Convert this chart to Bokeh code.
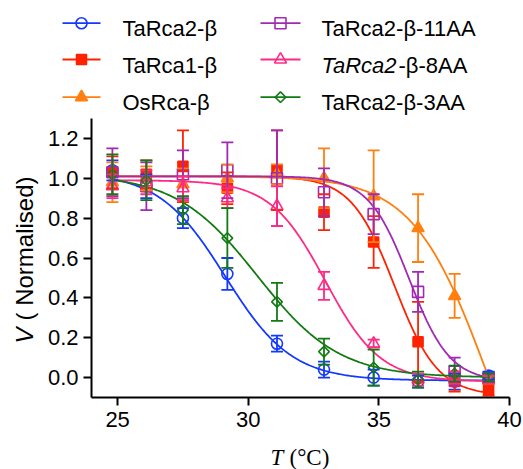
import numpy as np
from bokeh.plotting import figure
from bokeh.layouts import column, row
from bokeh.models import (Whisker, ColumnDataSource, Range1d, FixedTicker,
                          PrintfTickFormatter, TeeHead)
from bokeh.core.properties import value
from bokeh.embed import file_html
from bokeh.resources import INLINE

# ---------------- data ----------------
temps = [24.8, 26.1, 27.5, 29.2, 31.1, 32.9, 34.8, 36.5, 37.9, 39.2]

tarca2_v = [1.04, 0.96, 0.80, 0.52, 0.17, 0.04, 0.00, -0.02, -0.02, 0.01]
tarca2_e = [0.05, 0.06, 0.05, 0.08, 0.04, 0.04, 0.04, 0.03, 0.04, 0.02]

tarca1_v = [1.03, 1.02, 1.06, 0.95, 1.04, 0.83, 0.68, 0.18, -0.02, -0.06]
tarca1_e = [0.08, 0.07, 0.18, 0.08, 0.20, 0.09, 0.13, 0.20, 0.05, 0.03]

osrca_v = [0.98, 1.00, 0.97, 1.00, 1.02, 1.00, 0.91, 0.75, 0.41, -0.01]
osrca_e = [0.10, 0.06, 0.08, 0.07, 0.05, 0.15, 0.23, 0.17, 0.11, 0.02]

aa11_v = [1.03, 0.96, 1.02, 1.04, 1.00, 0.93, 0.82, 0.43, 0.03, 0.00]
aa11_e = [0.12, 0.12, 0.12, 0.14, 0.24, 0.12, 0.10, 0.10, 0.07, 0.02]

aa8_v = [0.96, 0.98, 0.95, 0.90, 0.86, 0.46, 0.17, -0.01, 0.00, -0.01]
aa8_e = [0.06, 0.06, 0.06, 0.05, 0.10, 0.07, 0.02, 0.03, 0.03, 0.02]

aa3_v = [1.02, 0.99, 0.84, 0.70, 0.38, 0.13, 0.05, -0.01, 0.02, 0.00]
aa3_e = [0.10, 0.10, 0.07, 0.15, 0.095, 0.065, 0.09, 0.04, 0.04, 0.02]

# Boltzmann fit parameters (top, bottom, Tm, slope)
tarca2_fit = (1.03, -0.015, 29.12, 1.27)
tarca1_fit = (1.01, -0.09, 35.60, 0.83)
osrca_fit = (1.01, -1.00, 39.19, 1.44)
aa11_fit = (1.01, -0.02, 36.16, 0.78)
aa8_fit = (0.99, -0.02, 32.95, 1.05)
aa3_fit = (1.02, 0.00, 30.35, 1.56)

x_ticks = [25, 30, 35, 40]
y_ticks = [0.0, 0.2, 0.4, 0.6, 0.8, 1.0, 1.2]

series_names = ["TaRca2-β", "TaRca1-β", "OsRca-β",
                "TaRca2-β-11AA", "TaRca2-β-8AA", "TaRca2-β-3AA"]

# ---------------- layout constants (page pixels) ----------------
TOTAL_W, TOTAL_H = 523, 469
TOP_H = 116           # legend strip
YL_W = 40             # y-label strip
MAIN_W = TOTAL_W - YL_W
MAIN_H = 321
BOT_H = TOTAL_H - TOP_H - MAIN_H
FL, FR, FT, FB = 51, 469, 2, 281   # frame inside main figure
XMIN, XMAX = 24.0, 40.0
YMIN, YMAX = -0.1, 1.3
FONT = "Liberation Sans"
SERIF = "Liberation Serif"


def boltz(t, params):
    top, bottom, tm, k = params
    return bottom + (top - bottom) / (1.0 + np.exp((t - tm) / k))


def blank_fig(x0, y0, w, h, top=0, bottom=0):
    """Figure whose data coordinates are page pixels (y negated)."""
    f = figure(width=w, height=h, output_backend="svg", toolbar_location=None,
               x_range=Range1d(x0, x0 + w),
               y_range=Range1d(-(y0 + h - bottom), -(y0 + top)),
               x_axis_type=None, y_axis_type=None, title=None,
               min_border_left=0, min_border_right=0,
               min_border_top=top, min_border_bottom=bottom)
    f.outline_line_color = None
    f.grid.visible = False
    f.background_fill_color = "white"
    f.border_fill_color = "white"
    return f


# ---------------- main plot ----------------
p = figure(width=MAIN_W, height=MAIN_H, output_backend="svg", toolbar_location=None,
           x_range=Range1d(XMIN, XMAX), y_range=Range1d(YMIN, YMAX),
           min_border_left=FL, min_border_right=MAIN_W - FR,
           min_border_top=FT, min_border_bottom=MAIN_H - FB, title=None)
p.outline_line_color = None
p.grid.visible = False
p.background_fill_color = "white"
p.border_fill_color = "white"

p.xaxis.ticker = FixedTicker(ticks=x_ticks, minor_ticks=[])
p.yaxis.ticker = FixedTicker(ticks=y_ticks, minor_ticks=[])
p.yaxis.formatter = PrintfTickFormatter(format="%.1f")
for ax in (p.xaxis[0], p.yaxis[0]):
    ax.axis_line_width = 2
    ax.axis_line_color = "black"
    ax.major_tick_line_width = 2
    ax.major_tick_line_color = "black"
    ax.major_tick_out = 8
    ax.major_tick_in = 0
    ax.minor_tick_line_color = None
    ax.major_label_text_font = FONT
    ax.major_label_text_font_size = "22px"
    ax.major_label_text_color = "black"
p.xaxis.major_label_standoff = 6
p.yaxis.major_label_standoff = 5

series = [
    (tarca2_v, tarca2_e, tarca2_fit, "#1438ff", "circle", 11, False, 0.0),
    (tarca1_v, tarca1_e, tarca1_fit, "#ff2200", "square", 10, True, 0.0),
    (osrca_v, osrca_e, osrca_fit, "#ff7f10", "triangle", 12, True, 0.0),
    (aa11_v, aa11_e, aa11_fit, "#a02ab4", "square", 11, False, 0.0),
    (aa8_v, aa8_e, aa8_fit, "#ff2a85", "triangle", 12, False, 0.0),
    (aa3_v, aa3_e, aa3_fit, "#127a12", "square", 7.5, False, np.pi / 4),
]

tgrid = np.linspace(temps[0], temps[-1], 300)
for vals, errs, fit, col, mk, sz, filled, ang in series:
    p.line(tgrid, boltz(tgrid, fit), line_color=col, line_width=1.8)
    src = ColumnDataSource(dict(
        x=temps, y=vals,
        upper=[v + e for v, e in zip(vals, errs)],
        lower=[v - e for v, e in zip(vals, errs)]))
    wk = Whisker(source=src, base="x", upper="upper", lower="lower",
                 line_color=col, line_width=1.8,
                 upper_head=TeeHead(size=12, line_color=col, line_width=1.8),
                 lower_head=TeeHead(size=12, line_color=col, line_width=1.8))
    wk.level = "glyph"
    p.add_layout(wk)
    p.scatter("x", "y", source=src, marker=mk, size=sz, angle=ang,
              line_color=col, line_width=1.6,
              fill_color=col if filled else None)

# ---------------- legend strip ----------------
lg = blank_fig(0, 0, TOTAL_W, TOP_H)
col_line_x = [(62, 100), (260, 300)]
col_text_x = [122, 321]
row_mark_y = [22.7, 59.0, 96.7]
row_base_y = [27.7, 65.0, 102.3]


def txt(f, x, y, s, font=FONT, size="22px", style="normal", align="left",
        baseline="alphabetic", angle=0.0):
    f.text([x], [-y], text=[s], text_font=value(font), text_font_size=size,
           text_font_style=style, text_align=align, text_baseline=baseline,
           text_color="black", angle=angle)


for i, (vals, errs, fit, col, mk, sz, filled, ang) in enumerate(series):
    c, r = divmod(i, 3)
    x0, x1 = col_line_x[c]
    yy = -row_mark_y[r]
    lg.line([x0, x1], [yy, yy], line_color=col, line_width=1.8)
    lg.scatter([(x0 + x1) / 2], [yy], marker=mk, size=sz, angle=ang,
               line_color=col, line_width=1.6,
               fill_color=col if filled else None)
    name = series_names[i]
    tx, ty = col_text_x[c], row_base_y[r]
    if name == "TaRca2-β-8AA":
        txt(lg, tx, ty, "TaRca2", style="italic")
        txt(lg, tx + 77, ty, "-β-8AA")
    else:
        txt(lg, tx, ty, name)

# ---------------- y label strip (frame aligned with main frame) ----------------
yl = blank_fig(0, TOP_H, YL_W, MAIN_H, top=FT, bottom=MAIN_H - FB)
txt(yl, 24, 335, "V", size="24px", style="italic", align="center",
    baseline="middle", angle=np.pi / 2)
txt(yl, 24, 343 - 23 - 72, "( Normalised)", size="24px", align="center",
    baseline="middle", angle=np.pi / 2)

# ---------------- x label strip ----------------
xl = blank_fig(0, TOP_H + MAIN_H, TOTAL_W, BOT_H)
txt(xl, 270, 456.5, "T", font=SERIF, size="23px", style="italic")
txt(xl, 289, 456.5, "(°C)", font=SERIF, size="23px")

layout = column(lg, row(yl, p, spacing=0), xl, spacing=0)

open("out.html", "w").write(file_html(layout, INLINE))
